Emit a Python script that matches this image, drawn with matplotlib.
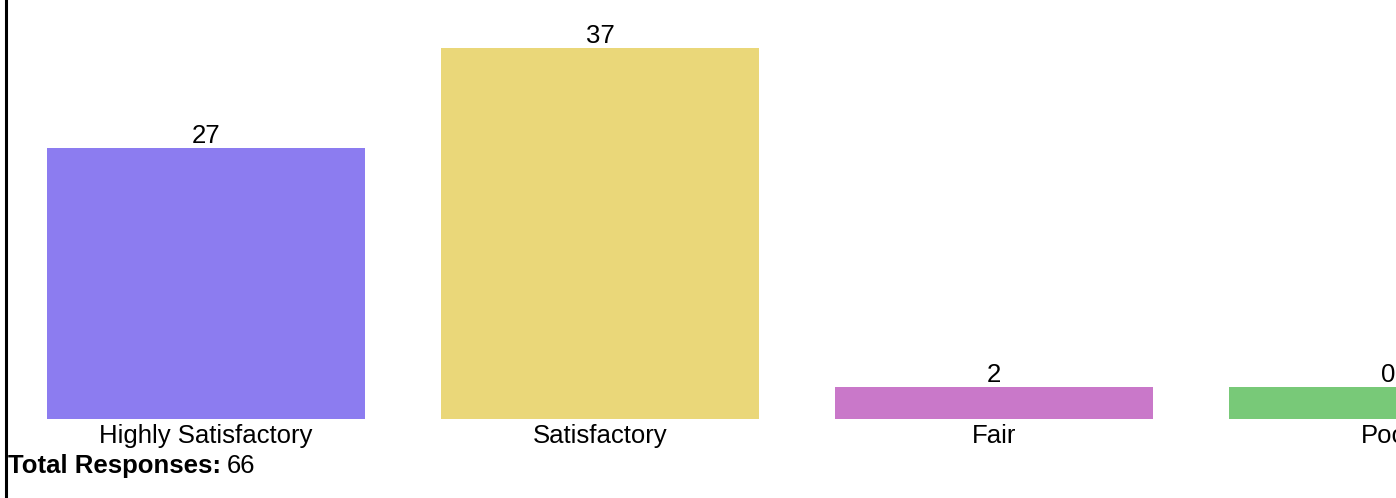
import numpy as np
import matplotlib.pyplot as plt
from matplotlib.lines import Line2D

plt.rcParams['font.family'] = ['Liberation Sans', 'DejaVu Sans']

# datos
categories = ["Highly Satisfactory", "Satisfactory", "Fair", "Poor"]
responses = [27, 37, 2, 0]
colors = ["#8c7cf0", "#ead779", "#c978c9", "#78c978"]
total = sum(responses)

W, H = 1396, 498
fig = plt.figure(figsize=(W / 100, H / 100), dpi=100)
fs = 18.5

# eje ocupa todo el ancho, base de barras en y=419 px
base_px = 419
ax = fig.add_axes([0, (H - base_px) / H, 1, base_px / H])
ax.set_axis_off()

x = np.arange(len(categories))
# altura minima visible de la barra (como en el original)
heights = np.maximum(responses, 3.2)
ax.bar(x, heights, width=0.807, color=colors)

px_per_unit = 10.03
ax.set_ylim(0, base_px / px_per_unit)
ax.set_xlim(-206 / 394, (W - 206) / 394)

for xi, h, v in zip(x, heights, responses):
    ax.text(xi, h + 4.7 / px_per_unit, str(v), ha="center", va="baseline",
            fontsize=fs)
    ax.text(xi, -24.3 / px_per_unit, categories[xi], ha="center",
            va="baseline", fontsize=fs, clip_on=False)

# linea del borde izquierdo
fig.add_artist(Line2D([5.5 / W, 5.5 / W], [0, 1], color="black", lw=2.2,
                      transform=fig.transFigure))

# total de respuestas
t1 = fig.text(8 / W, 1 - 473.3 / H, "Total Responses:", fontweight="bold",
              fontsize=fs, va="baseline", ha="left")
fig.canvas.draw()
bb = t1.get_window_extent()
fig.text((bb.x1 + 6) / W, 1 - 473.3 / H, str(total), fontsize=fs,
         va="baseline", ha="left")

plt.savefig("out.png", dpi=100)
